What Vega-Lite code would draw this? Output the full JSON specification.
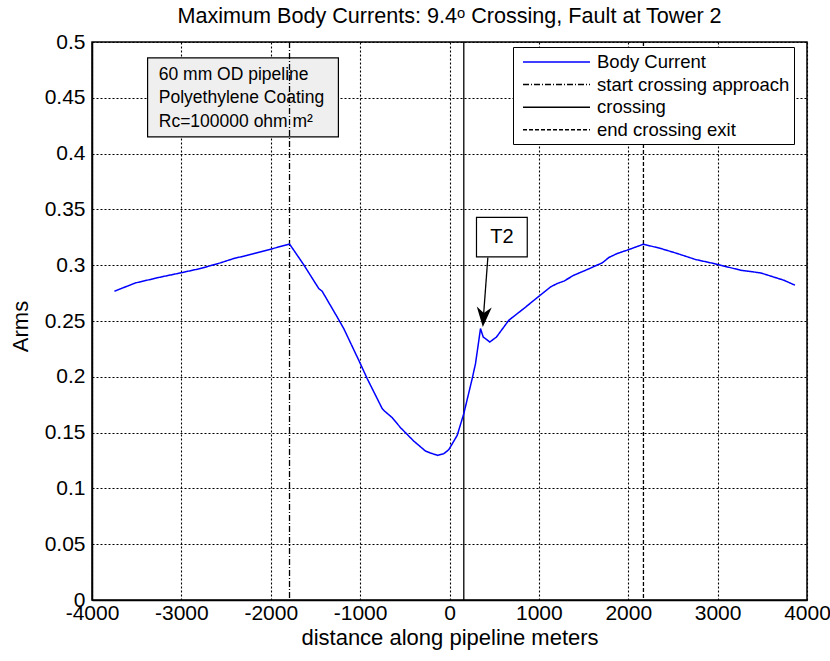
{
  "$schema": "https://vega.github.io/schema/vega-lite/v6.json",
  "width": 715,
  "height": 558,
  "autosize": {"type": "none"},
  "padding": {"left": 92, "top": 42, "right": 23, "bottom": 61},
  "background": "white",
  "config": {
    "font": "Liberation Sans",
    "view": {"stroke": "black", "strokeWidth": 1.5},
    "axis": {
      "grid": true,
      "domainColor": "black",
      "domainWidth": 1.5,
      "gridColor": "black",
      "gridDash": [2, 2],
      "gridOpacity": 1,
      "gridWidth": 1.1,
      "ticks": false,
      "labelFont": "Liberation Sans",
      "labelFontSize": 21,
      "labelColor": "black",
      "labelFlush": false,
      "titleFont": "Liberation Sans",
      "titleFontSize": 22,
      "titleFontWeight": "normal",
      "titleColor": "black"
    }
  },
  "title": {
    "text": "Maximum Body Currents: 9.4ᵒ Crossing, Fault at Tower 2",
    "font": "Liberation Sans",
    "fontSize": 21.6,
    "fontWeight": "normal",
    "color": "black",
    "anchor": "middle",
    "offset": 3
  },
  "datasets": {
    "current": [
      {"series": "Body Current", "distance": -3749, "arms": 0.2767},
      {"series": "Body Current", "distance": -3514, "arms": 0.2841},
      {"series": "Body Current", "distance": -3253, "arms": 0.2890},
      {"series": "Body Current", "distance": -3011, "arms": 0.2931},
      {"series": "Body Current", "distance": -2787, "arms": 0.2970},
      {"series": "Body Current", "distance": -2563, "arms": 0.3021},
      {"series": "Body Current", "distance": -2414, "arms": 0.3060},
      {"series": "Body Current", "distance": -2302, "arms": 0.3081},
      {"series": "Body Current", "distance": -2003, "arms": 0.3143},
      {"series": "Body Current", "distance": -1790, "arms": 0.3190},
      {"series": "Body Current", "distance": -1631, "arms": 0.3004},
      {"series": "Body Current", "distance": -1463, "arms": 0.2791},
      {"series": "Body Current", "distance": -1425, "arms": 0.2767},
      {"series": "Body Current", "distance": -1257, "arms": 0.2536},
      {"series": "Body Current", "distance": -1183, "arms": 0.2432},
      {"series": "Body Current", "distance": -1015, "arms": 0.2148},
      {"series": "Body Current", "distance": -921, "arms": 0.1984},
      {"series": "Body Current", "distance": -753, "arms": 0.1715},
      {"series": "Body Current", "distance": -727, "arms": 0.1693},
      {"series": "Body Current", "distance": -641, "arms": 0.1634},
      {"series": "Body Current", "distance": -548, "arms": 0.1544},
      {"series": "Body Current", "distance": -400, "arms": 0.1424},
      {"series": "Body Current", "distance": -269, "arms": 0.1335},
      {"series": "Body Current", "distance": -213, "arms": 0.1317},
      {"series": "Body Current", "distance": -131, "arms": 0.1296},
      {"series": "Body Current", "distance": -64, "arms": 0.1311},
      {"series": "Body Current", "distance": -8, "arms": 0.1347},
      {"series": "Body Current", "distance": 86, "arms": 0.1475},
      {"series": "Body Current", "distance": 160, "arms": 0.1670},
      {"series": "Body Current", "distance": 254, "arms": 0.1984},
      {"series": "Body Current", "distance": 291, "arms": 0.2118},
      {"series": "Body Current", "distance": 347, "arms": 0.2432},
      {"series": "Body Current", "distance": 377, "arms": 0.2357},
      {"series": "Body Current", "distance": 451, "arms": 0.2312},
      {"series": "Body Current", "distance": 526, "arms": 0.2357},
      {"series": "Body Current", "distance": 664, "arms": 0.2507},
      {"series": "Body Current", "distance": 832, "arms": 0.2612},
      {"series": "Body Current", "distance": 982, "arms": 0.2710},
      {"series": "Body Current", "distance": 1130, "arms": 0.2805},
      {"series": "Body Current", "distance": 1205, "arms": 0.2836},
      {"series": "Body Current", "distance": 1279, "arms": 0.2857},
      {"series": "Body Current", "distance": 1391, "arms": 0.2910},
      {"series": "Body Current", "distance": 1541, "arms": 0.2961},
      {"series": "Body Current", "distance": 1709, "arms": 0.3021},
      {"series": "Body Current", "distance": 1783, "arms": 0.3069},
      {"series": "Body Current", "distance": 1877, "arms": 0.3105},
      {"series": "Body Current", "distance": 1989, "arms": 0.3135},
      {"series": "Body Current", "distance": 2170, "arms": 0.3188},
      {"series": "Body Current", "distance": 2362, "arms": 0.3150},
      {"series": "Body Current", "distance": 2548, "arms": 0.3105},
      {"series": "Body Current", "distance": 2753, "arms": 0.3051},
      {"series": "Body Current", "distance": 2958, "arms": 0.3015},
      {"series": "Body Current", "distance": 3257, "arms": 0.2955},
      {"series": "Body Current", "distance": 3481, "arms": 0.2931},
      {"series": "Body Current", "distance": 3742, "arms": 0.2865},
      {"series": "Body Current", "distance": 3865, "arms": 0.2821}
    ],
    "markers": [
      {"series": "start crossing approach", "distance": -1790},
      {"series": "crossing", "distance": 160},
      {"series": "end crossing exit", "distance": 2170}
    ],
    "single": [{}]
  },
  "layer": [
    {
      "description": "Pipeline description box",
      "data": {"name": "single"},
      "mark": {"type": "rect", "fill": "#efefef", "stroke": "black", "strokeWidth": 1.2},
      "encoding": {
        "x": {"datum": -3378, "type": "quantitative"},
        "x2": {"datum": -1243},
        "y": {"datum": 0.4857, "type": "quantitative"},
        "y2": {"datum": 0.4150}
      }
    },
    {
      "data": {"name": "single"},
      "mark": {
        "type": "text",
        "text": ["60 mm OD pipeline", "Polyethylene Coating", "Rc=100000 ohm m²"],
        "align": "left",
        "baseline": "middle",
        "lineHeight": 23.4,
        "font": "Liberation Sans",
        "fontSize": 17.5,
        "color": "black"
      },
      "encoding": {
        "x": {"datum": -3253, "type": "quantitative"},
        "y": {"datum": 0.4705, "type": "quantitative"}
      }
    },
    {
      "description": "Crossing approach, crossing and exit markers",
      "data": {"name": "markers"},
      "mark": {"type": "rule", "strokeWidth": 1.3},
      "encoding": {
        "x": {"field": "distance", "type": "quantitative"},
        "color": {"field": "series", "type": "nominal"},
        "strokeDash": {"field": "series", "type": "nominal"}
      }
    },
    {
      "description": "Body current along the pipeline",
      "data": {"name": "current"},
      "mark": {"type": "line", "strokeWidth": 1.5},
      "encoding": {
        "x": {
          "field": "distance",
          "type": "quantitative",
          "title": "distance along pipeline meters",
          "scale": {"domain": [-4000, 4000], "nice": false, "zero": false},
          "axis": {
            "grid": true,
            "values": [-4000, -3000, -2000, -1000, 0, 1000, 2000, 3000, 4000],
            "labelExpr": "'' + datum.value",
            "labelPadding": 2,
            "titlePadding": 4
          }
        },
        "y": {
          "field": "arms",
          "type": "quantitative",
          "title": "Arms",
          "scale": {"domain": [0, 0.5], "nice": false},
          "axis": {
            "grid": true,
            "values": [0, 0.05, 0.1, 0.15, 0.2, 0.25, 0.3, 0.35, 0.4, 0.45, 0.5],
            "labelExpr": "'' + datum.value",
            "labelPadding": 7,
            "titlePadding": 12,
            "titleY": 284
          }
        },
        "color": {
          "field": "series",
          "type": "nominal",
          "scale": {
            "domain": ["Body Current", "start crossing approach", "crossing", "end crossing exit"],
            "range": ["#0000ff", "black", "black", "black"]
          },
          "legend": {
            "title": null,
            "orient": "none",
            "legendX": 421,
            "legendY": 5,
            "symbolType": "M-0.5,0 H6.2",
            "symbolSize": 400,
            "symbolStrokeWidth": 1.5,
            "labelFont": "Liberation Sans",
            "labelFontSize": 18.5,
            "labelColor": "black",
            "labelOffset": 58,
            "labelLimit": 400,
            "rowPadding": 1.6,
            "padding": 4,
            "strokeColor": "black",
            "fillColor": "white"
          }
        },
        "strokeDash": {
          "field": "series",
          "type": "nominal",
          "scale": {
            "domain": ["Body Current", "start crossing approach", "crossing", "end crossing exit"],
            "range": [[1, 0], [6, 2, 1, 2], [1, 0], [4, 2]]
          },
          "legend": {
            "title": null,
            "orient": "none",
            "legendX": 421,
            "legendY": 5,
            "symbolType": "M-0.5,0 H6.2",
            "symbolSize": 400,
            "symbolStrokeWidth": 1.5,
            "labelFont": "Liberation Sans",
            "labelFontSize": 18.5,
            "labelColor": "black",
            "labelOffset": 58,
            "labelLimit": 400,
            "rowPadding": 1.6,
            "padding": 4,
            "strokeColor": "black",
            "fillColor": "white"
          }
        }
      }
    },
    {
      "description": "Tower 2 label",
      "data": {"name": "single"},
      "mark": {"type": "rect", "fill": "white", "stroke": "black", "strokeWidth": 1.2},
      "encoding": {
        "x": {"datum": 302, "type": "quantitative"},
        "x2": {"datum": 870},
        "y": {"datum": 0.3428, "type": "quantitative"},
        "y2": {"datum": 0.3074}
      }
    },
    {
      "data": {"name": "single"},
      "mark": {"type": "text", "text": "T2", "align": "center", "baseline": "middle", "font": "Liberation Sans", "fontSize": 20, "color": "black"},
      "encoding": {
        "x": {"datum": 586, "type": "quantitative"},
        "y": {"datum": 0.3251, "type": "quantitative"}
      }
    },
    {
      "data": {"name": "single"},
      "mark": {"type": "rule", "color": "black", "strokeWidth": 1.3},
      "encoding": {
        "x": {"datum": 429, "type": "quantitative"},
        "y": {"datum": 0.3069, "type": "quantitative"},
        "x2": {"datum": 378},
        "y2": {"datum": 0.252}
      }
    },
    {
      "description": "Arrowhead pointing at the tower 2 spike",
      "data": {"name": "single"},
      "mark": {
        "type": "point",
        "shape": "M0,0 L-0.75,-2 L0,-1.4 L0.75,-2 Z",
        "filled": true,
        "color": "black",
        "opacity": 1,
        "size": 400,
        "angle": 4
      },
      "encoding": {
        "x": {"datum": 373, "type": "quantitative"},
        "y": {"datum": 0.2447, "type": "quantitative"}
      }
    }
  ]
}
